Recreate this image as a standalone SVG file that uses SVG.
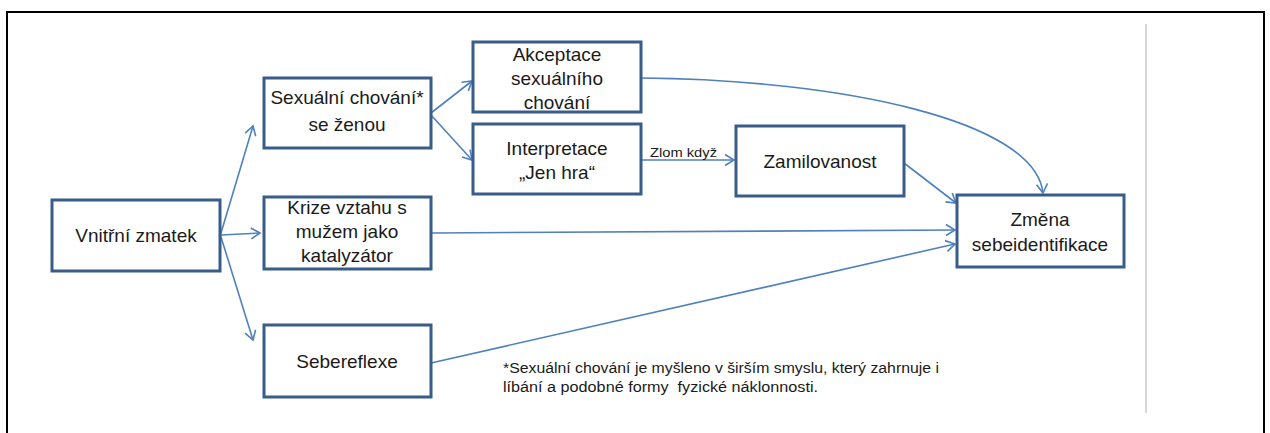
<svg xmlns="http://www.w3.org/2000/svg" width="1270" height="433" viewBox="0 0 1270 433">
<style>
.box{fill:#fff;stroke:#385d8a;stroke-width:3}
.lbl{font-family:"Liberation Sans",Arial,sans-serif;font-size:19px;fill:#1a1a1a;text-anchor:middle}
.edge{fill:none;stroke:#4f81bd;stroke-width:1.6;marker-end:url(#arr)}
.small{font-family:"Liberation Sans",Arial,sans-serif;font-size:14px;fill:#1a1a1a}
</style>
<defs>
<marker id="arr" markerUnits="userSpaceOnUse" markerWidth="14" markerHeight="14" refX="11" refY="7" orient="auto">
<path d="M2,1.5 L11,7 L2,12.5" fill="none" stroke="#4f81bd" stroke-width="1.6"/>
</marker>
</defs>
<rect x="0" y="0" width="1270" height="433" fill="#fff"/>
<rect x="7" y="12" width="1257" height="440" fill="none" stroke="#000" stroke-width="2"/>
<line x1="1146" y1="24" x2="1146" y2="413" stroke="#c8c8c8" stroke-width="1.5"/>
<g id="connectors">
<line class="edge" x1="221" y1="233" x2="253" y2="126"/>
<line class="edge" x1="221" y1="235" x2="260" y2="233"/>
<line class="edge" x1="221" y1="237" x2="253" y2="340"/>
<line class="edge" x1="431" y1="113" x2="472" y2="81"/>
<line class="edge" x1="431" y1="115" x2="472" y2="160"/>
<line class="edge" x1="641" y1="160" x2="734" y2="160"/>
<text class="small" x="650" y="157" textLength="67" lengthAdjust="spacingAndGlyphs" style="font-size:13.5px">Zlom když</text>
<path class="edge" d="M642,78 C840,80 1035,120 1043,193"/>
<line class="edge" x1="904" y1="163" x2="956" y2="203"/>
<line class="edge" x1="431" y1="233" x2="955" y2="230"/>
<line class="edge" x1="431" y1="363" x2="955" y2="244"/>
</g>
<g id="n-vnitrni">
<rect class="box" x="52" y="200" width="168" height="71"/>
<text class="lbl" x="136" y="242">Vnitřní zmatek</text>
</g>
<g id="n-sexualni">
<rect class="box" x="264" y="78" width="167" height="70"/>
<text class="lbl" x="347" y="104">Sexuální chování*</text>
<text class="lbl" x="347" y="131">se ženou</text>
</g>
<g id="n-krize">
<rect class="box" x="264" y="197" width="167" height="72"/>
<text class="lbl" x="347" y="214">Krize vztahu s</text>
<text class="lbl" x="347" y="238">mužem jako</text>
<text class="lbl" x="347" y="262">katalyzátor</text>
</g>
<g id="n-sebereflexe">
<rect class="box" x="264" y="325" width="167" height="72"/>
<text class="lbl" x="347" y="368">Sebereflexe</text>
</g>
<g id="n-akceptace">
<rect class="box" x="473" y="42" width="168" height="70"/>
<text class="lbl" x="557" y="61">Akceptace</text>
<text class="lbl" x="557" y="85">sexuálního</text>
<text class="lbl" x="557" y="109">chování</text>
</g>
<g id="n-interpretace">
<rect class="box" x="473" y="124" width="168" height="70"/>
<text class="lbl" x="557" y="155">Interpretace</text>
<text class="lbl" x="557" y="179">„Jen hra“</text>
</g>
<g id="n-zamilovanost">
<rect class="box" x="736" y="126" width="168" height="70"/>
<text class="lbl" x="820" y="168">Zamilovanost</text>
</g>
<g id="n-zmena">
<rect class="box" x="957" y="195" width="167" height="72"/>
<text class="lbl" x="1040" y="226">Změna</text>
<text class="lbl" x="1040" y="251">sebeidentifikace</text>
</g>
<g id="footnote">
<text class="small" x="503" y="373" textLength="436" lengthAdjust="spacingAndGlyphs">*Sexuální chování je myšleno v širším smyslu, který zahrnuje i</text>
<text class="small" x="503" y="392" textLength="315" lengthAdjust="spacingAndGlyphs" xml:space="preserve">líbání a podobné formy  fyzické náklonnosti.</text>
</g>
</svg>
